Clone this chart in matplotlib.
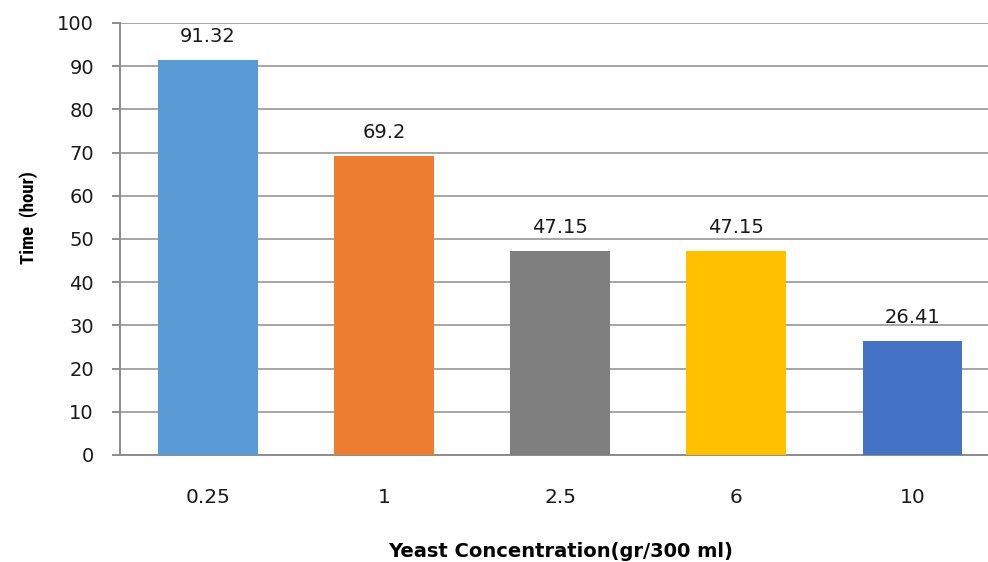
import matplotlib
matplotlib.use("Agg")
import matplotlib.pyplot as plt
from matplotlib import font_manager

categories = ["0.25", "1", "2.5", "6", "10"]
values = [91.32, 69.2, 47.15, 47.15, 26.41]
labels = ["91.32", "69.2", "47.15", "47.15", "26.41"]
colors = ["#5B9BD5", "#ED7D31", "#7F7F7F", "#FFC000", "#4472C4"]
yticks = [0, 10, 20, 30, 40, 50, 60, 70, 80, 90, 100]

plt.rcParams['font.family'] = ['DejaVu Sans']

installed = {f.name for f in font_manager.fontManager.ttflist}
narrow = "DejaVu Sans"
for cand in ["Liberation Sans Narrow", "DejaVu Sans Condensed", "Roboto Condensed", "Open Sans Condensed"]:
    if cand in installed:
        narrow = cand
        break

fig = plt.figure(figsize=(9.88, 5.62), dpi=100)
ax = fig.add_axes([120/988, 1-455/562, (988-120)/988, (455-23)/562])

x = list(range(len(categories)))
ax.bar(x, values, width=0.565, color=colors, zorder=3)
for xi, v, lab in zip(x, values, labels):
    ax.annotate(lab, (xi, v), xytext=(0, 13), textcoords="offset points",
                ha="center", va="baseline", fontsize=14, color="#1a1a1a")

ax.set_ylim(0, 100)
ax.set_xlim(-0.5, 4.43)
ax.set_yticks(yticks)
ax.set_xticks(x)
ax.set_xticklabels(categories)
ax.yaxis.grid(True, color="#a6a6a6", linewidth=1.4, zorder=0)
ax.set_axisbelow(True)
for s in ["top", "right"]:
    ax.spines[s].set_visible(False)
ax.spines["left"].set_color("#8c8c8c")
ax.spines["left"].set_linewidth(1.4)
ax.spines["bottom"].set_color("#8c8c8c")
ax.spines["bottom"].set_linewidth(1.4)
ax.tick_params(axis="y", length=5.8, width=1.4, color="#8c8c8c", labelsize=14, pad=13, labelcolor="#1a1a1a")
ax.tick_params(axis="x", length=0, labelsize=14.5, pad=24, labelcolor="#1a1a1a")

ax.set_ylabel("Time  (hour)", fontsize=13.5 if narrow != "DejaVu Sans" else 10.5,
              fontweight="bold", family=[narrow, "DejaVu Sans"])
ax.yaxis.set_label_coords(-0.0945, 0.55)
ax.set_xlabel("Yeast Concentration(gr/300 ml)", fontsize=14, fontweight="bold")
ax.xaxis.set_label_coords(0.5075, -0.2014)

fig.savefig("out.png", dpi=100)
